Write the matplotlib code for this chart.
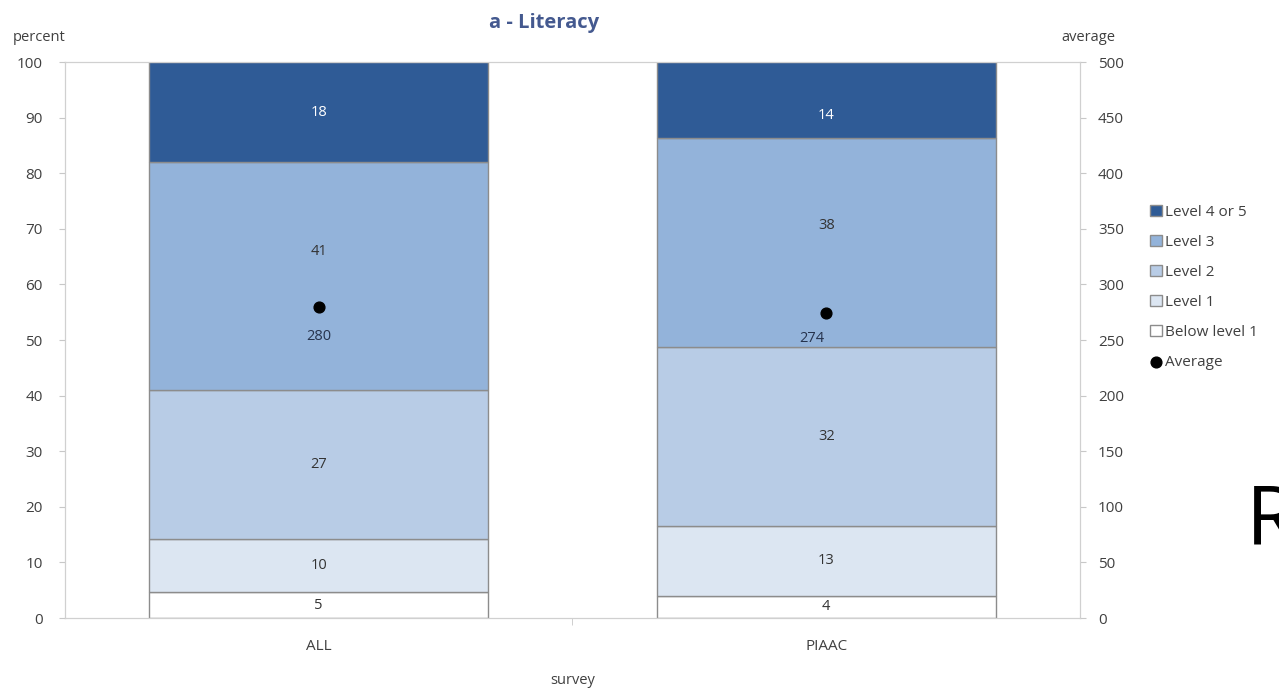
import matplotlib.pyplot as plt
import numpy as np

plt.rcParams['font.family'] = ['Open Sans', 'DejaVu Sans']

# ---------------- data ----------------
surveys = ["ALL", "PIAAC"]
levels = ["Below level 1", "Level 1", "Level 2", "Level 3", "Level 4 or 5"]
below1 = [4.6, 4.0]
level1 = [9.7, 12.6]
level2 = [26.7, 32.2]
level3 = [41.0, 37.6]
level45 = [18.0, 13.6]
averages = [280, 274]

colors = ["#FFFFFF", "#DCE6F2", "#B8CCE6", "#93B3DA", "#2F5B96"]
text_colors = ["#333333", "#333333", "#333333", "#333333", "#FFFFFF"]
# label nudges (percent units) per level, per survey, as in the original chart
label_nudge = [[0, 0], [0, 0], [0, 0], [4.5, 3.0], [0, -2.8]]

# ---------------- plot ----------------
fig = plt.figure(figsize=(12.79, 6.88), dpi=100)
ax = fig.add_axes([0.0508, 0.1017, 0.7936, 0.8081])
ax2 = ax.twinx()

x = np.arange(len(surveys))
width = 0.668
bottom = np.zeros(len(surveys))
handles = []
for name, vals, col, tc, nud in zip(levels, [below1, level1, level2, level3, level45],
                                    colors, text_colors, label_nudge):
    vals = np.array(vals)
    b = ax.bar(x, vals, width, bottom=bottom, color=col, edgecolor="#8C8C8C",
               linewidth=1.0, label=name, zorder=2)
    handles.append(b)
    for xi, v, bt, n in zip(x, vals, bottom, nud):
        ax.text(xi, bt + v / 2 + n, f"{v:.0f}", ha="center", va="center",
                fontsize=10.5, color=tc, zorder=4)
    bottom += vals

dots = ax2.scatter(x, averages, s=60, color="black", zorder=5, label="Average")
for xi, a, off in zip(x, averages, [(0, -30), (-14, -25)]):
    ax2.annotate(f"{a}", (xi, a), xytext=off, textcoords="offset pixels",
                 ha="center", va="center", fontsize=10.5, color="#26334D", zorder=5)

ax.set_xlim(-0.5, 1.5)
ax.set_ylim(0, 100)
ax2.set_ylim(0, 500)
ax.set_yticks(np.arange(0, 101, 10))
ax2.set_yticks(np.arange(0, 501, 50))
ax.set_xticks(x)
ax.set_xticklabels(surveys)
ax.set_xticks([0.5], minor=True)
ax.tick_params(axis="x", which="major", length=0, pad=15, labelsize=11, colors="#404040")
ax.tick_params(axis="x", which="minor", length=5, color="#C8C8C8")
ax.tick_params(axis="y", length=4, color="#C8C8C8", labelsize=11, labelcolor="#404040", pad=12)
ax2.tick_params(axis="y", length=4, color="#C8C8C8", labelsize=11, labelcolor="#404040", pad=9)

for a in (ax, ax2):
    for s in ["left", "right", "bottom", "top"]:
        a.spines[s].set_color("#D0D0D0")
ax.patch.set_visible(False)
ax2.patch.set_visible(False)
ax2.set_zorder(3)

ax.set_xlabel("survey", fontsize=10.5, color="#404040", labelpad=14)
fig.text(0.0102, 0.946, "percent", fontsize=10.5, color="#404040", ha="left", va="center")
fig.text(0.830, 0.946, "average", fontsize=10.5, color="#404040", ha="left", va="center")
fig.text(0.4253, 0.966, "a - Literacy", fontsize=14.5, fontweight="bold",
         color="#44598F", ha="center", va="center")

fig.legend(handles[::-1] + [dots], levels[::-1] + ["Average"], loc="upper left",
           bbox_to_anchor=(0.8945, 0.7108), frameon=False, fontsize=11,
           handlelength=0.75, handleheight=0.75, handletextpad=0.25, labelspacing=0.98,
           borderaxespad=0, labelcolor="#404040")

fig.text(0.974, 0.209, "R", fontsize=60, color="black", ha="left", va="baseline")

fig.savefig("out.png", dpi=100)
